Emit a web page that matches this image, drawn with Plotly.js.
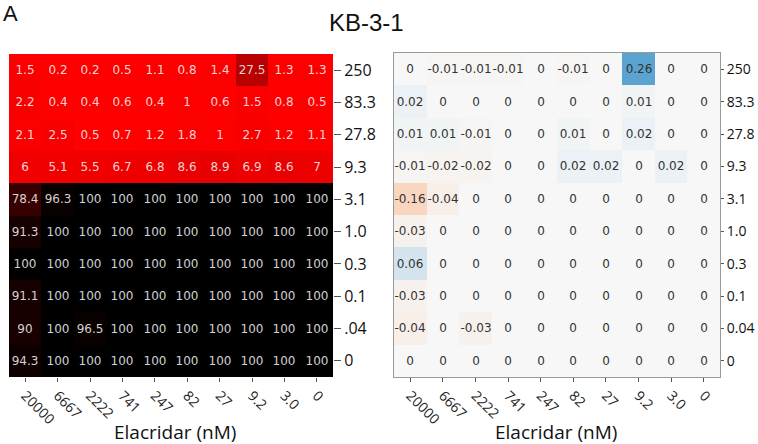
<!DOCTYPE html>
<html>
<head>
<meta charset="utf-8">
<script src="https://cdn.plot.ly/plotly-3.0.1.min.js"></script>
<style>html,body{margin:0;padding:0;background:#fff;}#chart{width:758px;height:444px;}</style>
</head>
<body>
<div id="chart"></div>
<script>
// Elacridar concentrations (columns)
const xLabels = ['20000','6667','2222','741','247','82','27','9.2','3.0','0'];
// Row labels (top to bottom)
const yLabelsLeft = ['250','83.3','27.8','9.3','3.1','1.0','0.3','0.1','.04','0'];
const yLabelsRight = ['250','83.3','27.8','9.3','3.1','1.0','0.3','0.1','0.04','0'];

// Left heatmap values (% viability)
const leftValues = [
  [1.5, 0.2, 0.2, 0.5, 1.1, 0.8, 1.4, 27.5, 1.3, 1.3],
  [2.2, 0.4, 0.4, 0.6, 0.4, 1, 0.6, 1.5, 0.8, 0.5],
  [2.1, 2.5, 0.5, 0.7, 1.2, 1.8, 1, 2.7, 1.2, 1.1],
  [6, 5.1, 5.5, 6.7, 6.8, 8.6, 8.9, 6.9, 8.6, 7],
  [78.4, 96.3, 100, 100, 100, 100, 100, 100, 100, 100],
  [91.3, 100, 100, 100, 100, 100, 100, 100, 100, 100],
  [100, 100, 100, 100, 100, 100, 100, 100, 100, 100],
  [91.1, 100, 100, 100, 100, 100, 100, 100, 100, 100],
  [90, 100, 96.5, 100, 100, 100, 100, 100, 100, 100],
  [94.3, 100, 100, 100, 100, 100, 100, 100, 100, 100]
];

// Right heatmap values (synergy scores)
const rightValues = [
  [0, -0.01, -0.01, -0.01, 0, -0.01, 0, 0.26, 0, 0],
  [0.02, 0, 0, 0, 0, 0, 0, 0.01, 0, 0],
  [0.01, 0.01, -0.01, 0, 0, 0.01, 0, 0.02, 0, 0],
  [-0.01, -0.02, -0.02, 0, 0, 0.02, 0.02, 0, 0.02, 0],
  [-0.16, -0.04, 0, 0, 0, 0, 0, 0, 0, 0],
  [-0.03, 0, 0, 0, 0, 0, 0, 0, 0, 0],
  [0.06, 0, 0, 0, 0, 0, 0, 0, 0, 0],
  [-0.03, 0, 0, 0, 0, 0, 0, 0, 0, 0],
  [-0.04, 0, -0.03, 0, 0, 0, 0, 0, 0, 0],
  [0, 0, 0, 0, 0, 0, 0, 0, 0, 0]
];

const W = 758, H = 444;
const px = v => v / W;
const py = v => 1 - v / H;

const traces = [
  {
    type: 'heatmap',
    x: xLabels, y: yLabelsLeft, z: leftValues,
    text: leftValues.map(r => r.map(String)),
    texttemplate: '%{text}',
    textfont: {family: 'DejaVu Sans', size: 12, color: 'rgba(240,240,240,0.88)'},
    colorscale: [[0, '#ff0000'], [1, '#000000']],
    zmin: 0, zmax: 100, showscale: false,
    xaxis: 'x', yaxis: 'y', hoverinfo: 'skip'
  },
  {
    type: 'heatmap',
    x: xLabels, y: yLabelsRight, z: rightValues,
    text: rightValues.map(r => r.map(String)),
    texttemplate: '%{text}',
    textfont: {family: 'DejaVu Sans', size: 12, color: '#333333'},
    colorscale: [[0, '#fbb990'], [0.5, '#f7f7f7'], [0.9333, '#5ba3d0'], [1, '#4a97c9']],
    zmin: -0.3, zmax: 0.3, showscale: false,
    xaxis: 'x2', yaxis: 'y2', hoverinfo: 'skip'
  }
];

const tickFont = {family: 'Open Sans', size: 14, color: '#222'};
const xBase = {
  type: 'category', ticks: 'outside', ticklen: 4, tickcolor: '#555',
  tickangle: 45, tickfont: tickFont, showgrid: false, zeroline: false, fixedrange: true
};
const yBase = {
  type: 'category', side: 'right', ticks: 'outside', tickcolor: '#555',
  autorange: 'reversed', showgrid: false, zeroline: false, fixedrange: true
};

const layout = {
  width: W, height: H,
  margin: {l: 0, r: 0, t: 0, b: 0},
  paper_bgcolor: '#fff', plot_bgcolor: '#fff',
  showlegend: false,
  xaxis: Object.assign({}, xBase, {domain: [px(9), px(333)], anchor: 'y', showline: false}),
  yaxis: Object.assign({}, yBase, {domain: [py(377), py(54)], anchor: 'x', ticklen: 7, showline: false,
    tickfont: {family: 'Open Sans', size: 16, color: '#111'}}),
  xaxis2: Object.assign({}, xBase, {domain: [px(394), px(720)], anchor: 'y2', showline: true, mirror: true, linecolor: '#9a9a9a', linewidth: 1}),
  yaxis2: Object.assign({}, yBase, {domain: [py(377), py(53)], anchor: 'x2', ticklen: 3, showline: true, mirror: true, linecolor: '#9a9a9a', linewidth: 1,
    tickfont: {family: 'Open Sans', size: 14, color: '#111'}}),
  annotations: [
    {text: 'KB-3-1', x: px(366), y: py(22), xref: 'paper', yref: 'paper', showarrow: false,
     xanchor: 'center', yanchor: 'middle', font: {family: 'Liberation Sans', size: 24, color: '#111'}},
    {text: 'A', x: px(1), y: py(13), xref: 'paper', yref: 'paper', showarrow: false,
     xanchor: 'left', yanchor: 'middle', font: {family: 'Liberation Sans', size: 22, color: '#111'}},
    {text: 'Elacridar (nM)', x: px(175), y: py(432), xref: 'paper', yref: 'paper', showarrow: false,
     xanchor: 'center', yanchor: 'middle', font: {family: 'Open Sans', size: 19, color: '#111'}},
    {text: 'Elacridar (nM)', x: px(556), y: py(432), xref: 'paper', yref: 'paper', showarrow: false,
     xanchor: 'center', yanchor: 'middle', font: {family: 'Open Sans', size: 19, color: '#111'}}
  ]
};

Plotly.newPlot('chart', traces, layout, {displayModeBar: false, staticPlot: true});
</script>
</body>
</html>
